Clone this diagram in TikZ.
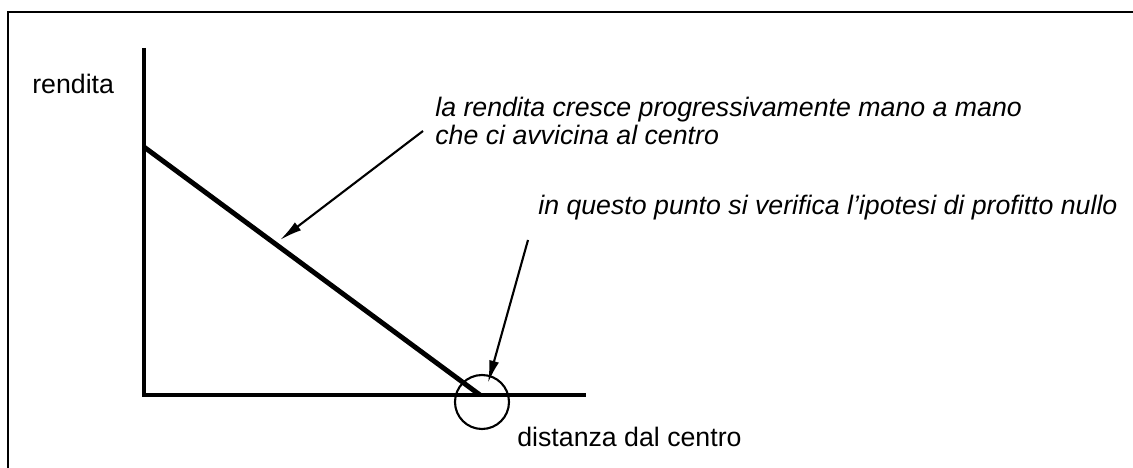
\documentclass[tikz,border=0pt]{standalone}
\usepackage{fontspec}
\setmainfont{Liberation Sans}
\usetikzlibrary{arrows.meta}

\begin{document}
\begin{tikzpicture}[
    axisline/.style={line width=2pt},
    rentline/.style={line width=2.8pt},
    note/.style={font=\fontsize{15.2}{15.6}\selectfont\itshape,inner sep=0pt,align=left},
    axisname/.style={font=\fontsize{15.2}{15.6}\selectfont,inner sep=0pt},
    pointer/.style={line width=1.2pt,-{Latex[length=4.5mm,width=2mm]}}
  ]
  \useasboundingbox (0,0) rectangle (22.66,9.36);
  % Frame
  \draw[line width=1.2pt] (0.16,0) -- (0.16,9.12) -- (22.66,9.12);
  % Axes
  \coordinate (O) at (2.88,1.46);
  \coordinate (Y) at (2.88,8.40);
  \coordinate (X) at (11.72,1.46);
  \draw[axisline] (Y) -- (O) -- (X);
  \node[axisname,anchor=base west] (YL) at (0.64,7.48) {rendita};
  \node[axisname,anchor=base west] (XL) at (10.34,0.43) {distanza dal centro};
  % Rent line
  \coordinate (R0) at (2.88,6.42);
  \coordinate (R1) at (9.60,1.46);
  \draw[rentline] (R0) -- (R1);
  \draw (9.64,1.32) node[circle,minimum size=1.08cm,draw,line width=1.2pt] (Z) {};
  % Notes
  \node[note,anchor=north west] (N1) at (8.70,7.42) {la rendita cresce progressivamente mano a mano\\che ci avvicina al centro};
  \node[note,anchor=base west] (N2) at (10.76,5.06) {in questo punto si verifica l'ipotesi di profitto nullo};
  % Pointers
  \coordinate (T1) at (8.46,6.74);
  \coordinate (P1) at (5.60,4.56);
  \draw[pointer] (T1) -- (P1);
  \coordinate (T2) at (10.56,4.56);
  \coordinate (P2) at (9.76,1.70);
  \draw[pointer] (T2) -- (P2);
\end{tikzpicture}
\end{document}
